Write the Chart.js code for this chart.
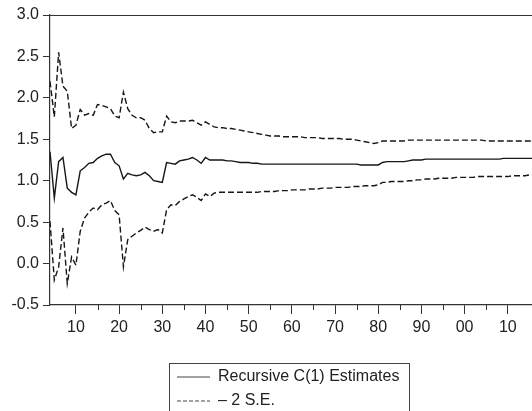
<!DOCTYPE html>
<html>
<head>
<meta charset="utf-8">
<script src="https://cdn.jsdelivr.net/npm/chart.js@4/dist/chart.umd.min.js"></script>
<style>
  body { margin:0; background:#fff; overflow:hidden; }
  #wrap { position:relative; width:532px; height:411px; }
  #legend {
    position:absolute; left:169px; top:363px; width:241px; height:60px;
    border:1px solid #444; box-sizing:border-box;
    font-family:'Liberation Sans', Arial, sans-serif; font-size:16px; color:#222;
  }
  #legend .row { position:absolute; left:7px; height:20px; line-height:20px; white-space:nowrap; }
  #legend svg { vertical-align:middle; margin-right:8px; }
</style>
</head>
<body>
<div id="wrap">
  <canvas id="recChart" width="532" height="411"></canvas>
  <div id="legend"></div>
</div>
<script>
/* recursive coefficient estimates, yearly */
const years = [];
for (let y = 1904; y <= 2016; y++) years.push(y);

const estimate = [
  1.35, 0.79, 1.23, 1.28, 0.91, 0.86, 0.83, 1.12, 1.16, 1.21, // 1904-1913
  1.22, 1.27, 1.30, 1.32, 1.32, 1.22, 1.18, 1.02, 1.09, 1.07, // 1914-1923
  1.06, 1.07, 1.10, 1.06, 1.00, 0.99, 0.98, 1.22, 1.21, 1.20, // 1924-1933
  1.24, 1.25, 1.26, 1.28, 1.25, 1.21, 1.28, 1.25, 1.25, 1.25, // 1934-1943
  1.25, 1.24, 1.24, 1.23, 1.22, 1.22, 1.22, 1.21, 1.21, 1.20, // 1944-1953
  1.20, 1.20, 1.20, 1.20, 1.20, 1.20, 1.20, 1.20, 1.20, 1.20, // 1954-1963
  1.20, 1.20, 1.20, 1.20, 1.20, 1.20, 1.20, 1.20, 1.20, 1.20, // 1964-1973
  1.20, 1.20, 1.19, 1.19, 1.19, 1.19, 1.19, 1.22, 1.23, 1.23, // 1974-1983
  1.23, 1.23, 1.23, 1.24, 1.25, 1.25, 1.25, 1.26, 1.26, 1.26, // 1984-1993
  1.26, 1.26, 1.26, 1.26, 1.26, 1.26, 1.26, 1.26, 1.26, 1.26, // 1994-2003
  1.26, 1.26, 1.26, 1.26, 1.26, 1.27, 1.27, 1.27, 1.27, 1.27, // 2004-2013
  1.27, 1.27, 1.27                                            // 2014-2016
];

const upperSE = [
  2.20, 1.77, 2.55, 2.14, 2.08, 1.63, 1.67, 1.86, 1.79, 1.81,
  1.79, 1.92, 1.91, 1.89, 1.87, 1.78, 1.76, 2.07, 1.87, 1.79,
  1.76, 1.76, 1.73, 1.63, 1.58, 1.59, 1.59, 1.78, 1.71, 1.70,
  1.72, 1.72, 1.72, 1.73, 1.70, 1.67, 1.71, 1.68, 1.65, 1.64,
  1.64, 1.63, 1.63, 1.62, 1.61, 1.60, 1.59, 1.58, 1.57, 1.56,
  1.55, 1.54, 1.54, 1.54, 1.53, 1.53, 1.53, 1.53, 1.53, 1.52,
  1.52, 1.52, 1.52, 1.51, 1.51, 1.51, 1.51, 1.51, 1.50, 1.50,
  1.50, 1.49, 1.48, 1.47, 1.46, 1.45, 1.46, 1.48, 1.48, 1.48,
  1.48, 1.48, 1.48, 1.49, 1.49, 1.49, 1.49, 1.49, 1.49, 1.49,
  1.49, 1.49, 1.49, 1.49, 1.49, 1.49, 1.49, 1.49, 1.49, 1.49,
  1.49, 1.48, 1.48, 1.48, 1.48, 1.48, 1.48, 1.48, 1.48, 1.48,
  1.48, 1.48, 1.48
];

const lowerSE = [
  0.51, -0.20, -0.04, 0.43, -0.24, 0.08, -0.02, 0.39, 0.55, 0.62,
  0.67, 0.65, 0.71, 0.73, 0.76, 0.64, 0.59, -0.04, 0.29, 0.33,
  0.37, 0.40, 0.44, 0.41, 0.39, 0.41, 0.37, 0.65, 0.71, 0.70,
  0.75, 0.78, 0.81, 0.83, 0.80, 0.76, 0.84, 0.81, 0.85, 0.86,
  0.86, 0.86, 0.86, 0.86, 0.86, 0.86, 0.86, 0.86, 0.86, 0.87,
  0.87, 0.87, 0.87, 0.88, 0.88, 0.88, 0.89, 0.89, 0.89, 0.89,
  0.90, 0.90, 0.90, 0.91, 0.91, 0.91, 0.92, 0.92, 0.92, 0.92,
  0.93, 0.93, 0.93, 0.94, 0.94, 0.94, 0.95, 0.98, 0.98, 0.99,
  0.99, 0.99, 0.99, 1.00, 1.00, 1.01, 1.01, 1.02, 1.02, 1.02,
  1.03, 1.03, 1.03, 1.03, 1.04, 1.04, 1.04, 1.04, 1.04, 1.05,
  1.05, 1.05, 1.05, 1.05, 1.05, 1.05, 1.05, 1.06, 1.06, 1.06,
  1.06, 1.07, 1.07
];

const yTicks = [-0.5, 0.0, 0.5, 1.0, 1.5, 2.0, 2.5, 3.0];
const legendLabels = ['Recursive C(1) Estimates', '\u2013 2 S.E.'];

const lineColor = '#161616';
const dash = [6, 3];

function toPoints(vals){
  return vals.map((v, i) => ({ x: years[i], y: v }));
}

/* top frame line + short minor ticks on x axis */
const framePlugin = {
  id: 'frame',
  afterDraw(chart){
    const ctx = chart.ctx, a = chart.chartArea, xs = chart.scales.x;
    ctx.save();
    ctx.strokeStyle = '#333';
    ctx.lineWidth = 1;
    ctx.beginPath();
    ctx.moveTo(a.left, a.top + 0.5);
    ctx.lineTo(a.right, a.top + 0.5);
    xs.ticks.forEach(t => {
      if (t.value % 10 !== 0) {
        const px = Math.round(xs.getPixelForValue(t.value)) + 0.5;
        ctx.moveTo(px, a.bottom);
        ctx.lineTo(px, a.bottom + 5);
      }
    });
    ctx.stroke();
    ctx.restore();
  }
};

Chart.defaults.font.family = "'Liberation Sans', Arial, sans-serif";
Chart.defaults.font.size = 16;
Chart.defaults.color = '#222';

new Chart(document.getElementById('recChart'), {
  type: 'line',
  data: {
    datasets: [
      { label: legendLabels[0], data: toPoints(estimate), borderColor: lineColor, borderWidth: 1.4 },
      { label: legendLabels[1], data: toPoints(upperSE), borderColor: lineColor, borderWidth: 1.4, borderDash: dash },
      { label: legendLabels[1], data: toPoints(lowerSE), borderColor: lineColor, borderWidth: 1.4, borderDash: dash }
    ]
  },
  options: {
    responsive: false,
    animation: false,
    devicePixelRatio: 1,
    elements: { point: { radius: 0 }, line: { tension: 0 } },
    layout: { padding: { top: 15, right: 0, bottom: 70, left: 0 } },
    plugins: { legend: { display: false }, tooltip: { enabled: false } },
    scales: {
      x: {
        type: 'linear',
        min: 1904,
        max: 2015.6,
        afterBuildTicks: s => { s.ticks = s.ticks.filter(t => t.value % 5 === 0); },
        afterFit: s => { s.height = 36; },
        ticks: {
          stepSize: 5,
          autoSkip: false,
          maxRotation: 0,
          padding: 4,
          callback: v => (v % 10 === 0 ? String(v % 100).padStart(2, '0') : '')
        },
        grid: {
          drawOnChartArea: false,
          tickLength: 9,
          tickColor: c => (c.tick && c.tick.value % 10 === 0 ? '#333' : 'rgba(0,0,0,0)')
        },
        border: { color: '#333', width: 1.2 }
      },
      y: {
        min: -0.5,
        max: 3.0,
        afterBuildTicks: s => { s.ticks = yTicks.map(v => ({ value: v })); },
        afterFit: s => { s.width = 50; },
        ticks: { padding: 4, callback: v => Number(v).toFixed(1) },
        grid: { drawOnChartArea: false, tickLength: 7, tickColor: '#333' },
        border: { color: '#333', width: 1.2 }
      }
    }
  },
  plugins: [framePlugin]
});

/* legend box */
const legend = document.getElementById('legend');
legendLabels.forEach((txt, i) => {
  const row = document.createElement('div');
  row.className = 'row';
  row.style.top = (2 + i * 24) + 'px';
  const da = i === 0 ? '' : ' stroke-dasharray="4 2"';
  row.innerHTML = '<svg width="33" height="4"><line x1="0" y1="2" x2="33" y2="2" stroke="#444" stroke-width="1"' + da + '/></svg>' + txt;
  legend.appendChild(row);
});
</script>
</body>
</html>
